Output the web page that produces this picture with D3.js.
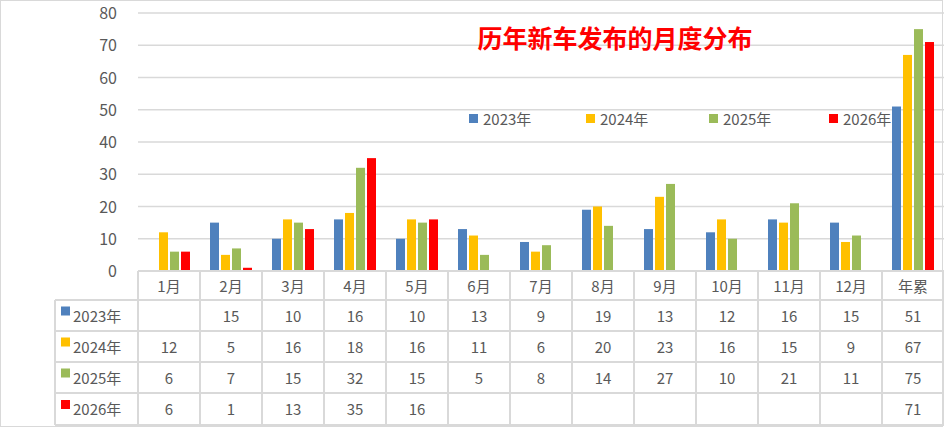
<!DOCTYPE html>
<html><head><meta charset="utf-8">
<script src="https://cdn.jsdelivr.net/npm/d3@7"></script>
<style>body{margin:0;background:#fff}text{font-family:"Noto Sans CJK SC","DejaVu Sans",sans-serif}</style>
</head><body><div id="chart"></div>
<script>
const categories = ["1月","2月","3月","4月","5月","6月","7月","8月","9月","10月","11月","12月","年累"];
const seriesNames = ["2023年","2024年","2025年","2026年"];
const colors = ["#4f81bd","#ffc000","#9bbb59","#ff0000"];
const v2023 = [null,15,10,16,10,13,9,19,13,12,16,15,51];
const v2024 = [12,5,16,18,16,11,6,20,23,16,15,9,67];
const v2025 = [6,7,15,32,15,5,8,14,27,10,21,11,75];
const v2026 = [6,1,13,35,16,null,null,null,null,null,null,null,71];
const series = [v2023,v2024,v2025,v2026];
const yTicks = [0,10,20,30,40,50,60,70,80];

const W = 944, H = 428;
const svg = d3.select("#chart").append("svg").attr("width", W).attr("height", H);
svg.append("rect").attr("x",0.5).attr("y",0.5).attr("width",W-2).attr("height",H-2)
  .attr("fill","#fff").attr("stroke","#d9d9d9");

const plotL = 138, plotR = 944, plotT = 13, plotB = 271;
const x = d3.scaleBand().domain(categories).range([plotL, plotR]);
const y = d3.scaleLinear().domain([0,80]).range([plotB, plotT]);

svg.append("g").selectAll("line").data(yTicks.slice(1)).join("line")
  .attr("x1", plotL).attr("x2", plotR).attr("y1", d => y(d)).attr("y2", d => y(d))
  .attr("stroke","#d9d9d9").attr("stroke-width",1.5);
svg.append("g").selectAll("text").data(yTicks).join("text")
  .attr("x", 117).attr("y", d => y(d) + 6).attr("text-anchor","end")
  .attr("font-size",16).attr("fill","#595959").text(d => d);

const barW = 9, step = 11;
series.forEach((vals, si) => {
  svg.append("g").selectAll("rect").data(vals.map((v,i)=>({v,c:categories[i]})).filter(d => d.v != null))
    .join("rect")
    .attr("x", d => x(d.c) + x.bandwidth()/2 + (si - 1.5) * step - barW/2)
    .attr("y", d => y(d.v)).attr("width", barW).attr("height", d => plotB - y(d.v))
    .attr("fill", colors[si]);
});

svg.append("text").attr("x", 615).attr("y", 48).attr("text-anchor","middle")
  .attr("font-size",25).attr("font-weight","bold").attr("fill","#ff0000").text("历年新车发布的月度分布");

const legX = [469, 586, 709, 829];
seriesNames.forEach((n,i) => {
  svg.append("rect").attr("x", legX[i]).attr("y", 114).attr("width",9).attr("height",9).attr("fill",colors[i]);
  svg.append("text").attr("x", legX[i] + 14).attr("y", 125).attr("font-size",15).attr("fill","#595959").text(n);
});

const rows = [271, 300, 331, 362, 393, 425];
const tg = svg.append("g").attr("stroke","#d9d9d9").attr("stroke-width",2);
rows.forEach((ry, i) => tg.append("line").attr("x1", i === 0 ? plotL : 55).attr("x2", plotR).attr("y1", ry).attr("y2", ry));
tg.append("line").attr("x1",55).attr("x2",55).attr("y1",rows[1]).attr("y2",rows[5]);
categories.forEach(c => tg.append("line").attr("x1", x(c)).attr("x2", x(c)).attr("y1", plotB).attr("y2", rows[5]));
tg.append("line").attr("x1", plotR-1).attr("x2", plotR-1).attr("y1", plotB).attr("y2", rows[5]);

svg.append("g").selectAll("text").data(categories).join("text")
  .attr("x", c => x(c) + x.bandwidth()/2).attr("y", 292).attr("text-anchor","middle")
  .attr("font-size",15).attr("fill","#595959").text(c => c);

series.forEach((vals, si) => {
  const cy = (rows[si+1] + rows[si+2]) / 2 + 6;
  svg.append("rect").attr("x", 61).attr("y", cy - 15).attr("width",9).attr("height",9).attr("fill",colors[si]);
  svg.append("text").attr("x", 73).attr("y", cy).attr("font-size",15).attr("fill","#595959").text(seriesNames[si]);
  svg.append("g").selectAll("text").data(vals.map((v,i)=>({v,c:categories[i]})).filter(d => d.v != null)).join("text")
    .attr("x", d => x(d.c) + x.bandwidth()/2).attr("y", cy).attr("text-anchor","middle")
    .attr("font-size",15).attr("fill","#595959").text(d => d.v);
});
</script></body></html>
